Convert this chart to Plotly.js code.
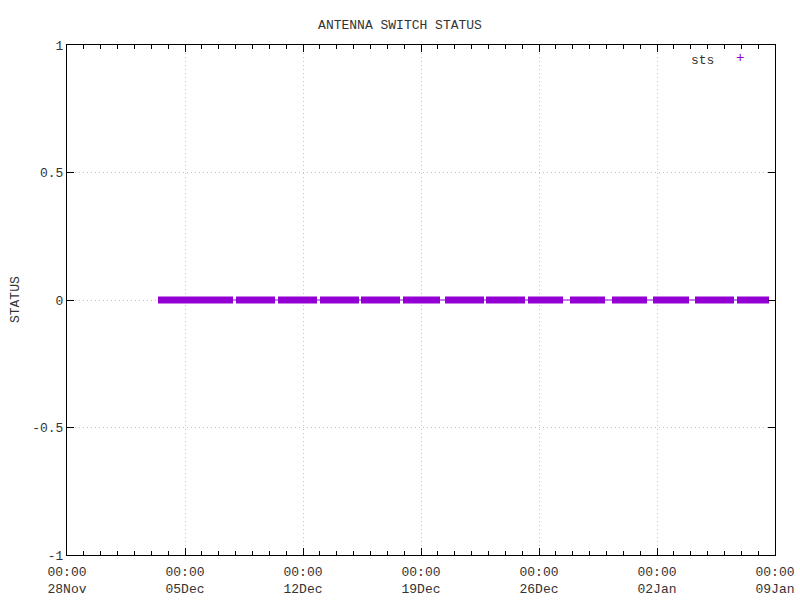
<!DOCTYPE html>
<html>
<head>
<meta charset="utf-8">
<script src="https://cdn.plot.ly/plotly-3.0.1.min.js"></script>
<style>html,body{margin:0;padding:0;background:#fff;}#chart{width:800px;height:600px;}</style>
</head>
<body>
<div id="chart"></div>
<script>
// Dense "sts" samples appear as runs of points; each run is given by its start and end time.
const runStart = ['2019-12-03 09:33','2019-12-08 00:37','2019-12-10 12:25','2019-12-13 00:13','2019-12-15 10:35',
                  '2019-12-17 22:22','2019-12-20 10:10','2019-12-22 20:32','2019-12-25 08:21','2019-12-27 20:09',
                  '2019-12-30 07:57','2020-01-01 18:19','2020-01-04 06:07','2020-01-06 17:54'];
const runEnd   = ['2019-12-07 20:21','2019-12-10 08:08','2019-12-12 19:56','2019-12-15 07:44','2019-12-17 18:06',
                  '2019-12-20 03:03','2019-12-22 17:41','2019-12-25 04:05','2019-12-27 10:11','2019-12-29 21:59',
                  '2020-01-01 09:46','2020-01-03 21:34','2020-01-06 13:38','2020-01-08 15:29'];
const runStatus = [0,0,0,0,0,0,0,0,0,0,0,0,0,0];
const xRange = ['2019-11-28 00:00','2020-01-09 00:00'];
const yTicks = [-1,-0.5,0,0.5,1];
const yTickText = ['-1','-0.5','0','0.5','1'];

const purple = '#9400d3';
const font = {family:'Liberation Mono, DejaVu Sans Mono, monospace', size:13, color:'#333'};

// thick band per run
const bx = [], by = [];
for (let i = 0; i < runStart.length; i++) {
  bx.push(runStart[i], runEnd[i], null);
  by.push(runStatus[i], runStatus[i], null);
}
const traces = [
  {x:[runStart[0], runEnd[runEnd.length-1]], y:[runStatus[0], runStatus[runStatus.length-1]],
   mode:'lines', line:{color:purple, width:1}, showlegend:false, hoverinfo:'skip'},
  {x:bx, y:by, mode:'lines', line:{color:purple, width:7}, name:'sts', showlegend:false}
];

const layout = {
  width:800, height:600,
  margin:{l:67, r:25, t:45, b:45},
  paper_bgcolor:'#fff', plot_bgcolor:'#fff',
  font:font,
  title:{text:'ANTENNA SWITCH STATUS', x:0.5, xanchor:'center', y:0.96, yanchor:'middle', font:font},
  showlegend:false,
  xaxis:{
    type:'date', range:xRange, tick0:xRange[0], dtick:7*86400000,
    tickformat:'%H:%M<br>%d%b', ticks:'inside', ticklen:7, tickcolor:'#000', tickwidth:1,
    ticklabelstandoff:4,
    minor:{dtick:86400000, ticks:'inside', ticklen:4, tickcolor:'#000', showgrid:false},
    showline:true, linecolor:'#000', linewidth:1, mirror:'ticks',
    showgrid:true, gridcolor:'#c4c4c4', griddash:'1px,3px', gridwidth:1,
    zeroline:false, tickfont:font, automargin:false
  },
  yaxis:{
    range:[-1,1], tickvals:yTicks, ticktext:yTickText,
    ticks:'inside', ticklen:7, tickcolor:'#000', tickwidth:1,
    showline:true, linecolor:'#000', linewidth:1, mirror:'ticks',
    showgrid:true, gridcolor:'#c4c4c4', griddash:'1px,3px', gridwidth:1,
    zeroline:false, tickfont:font, automargin:false
  },
  annotations:[
    {xref:'paper', yref:'paper', x:-0.0734, y:0.5, text:'STATUS', textangle:-90, showarrow:false,
     xanchor:'center', yanchor:'middle', font:font},
    {xref:'paper', yref:'paper', x:0.916, y:0.97, text:'sts', showarrow:false, xanchor:'right', yanchor:'middle', font:font},
    {xref:'paper', yref:'paper', x:0.9506, y:0.974, text:'+', showarrow:false, xanchor:'center', yanchor:'middle',
     font:{family:font.family, size:14, color:purple}}
  ]
};

Plotly.newPlot('chart', traces, layout, {displayModeBar:false, staticPlot:true});
</script>
</body>
</html>
